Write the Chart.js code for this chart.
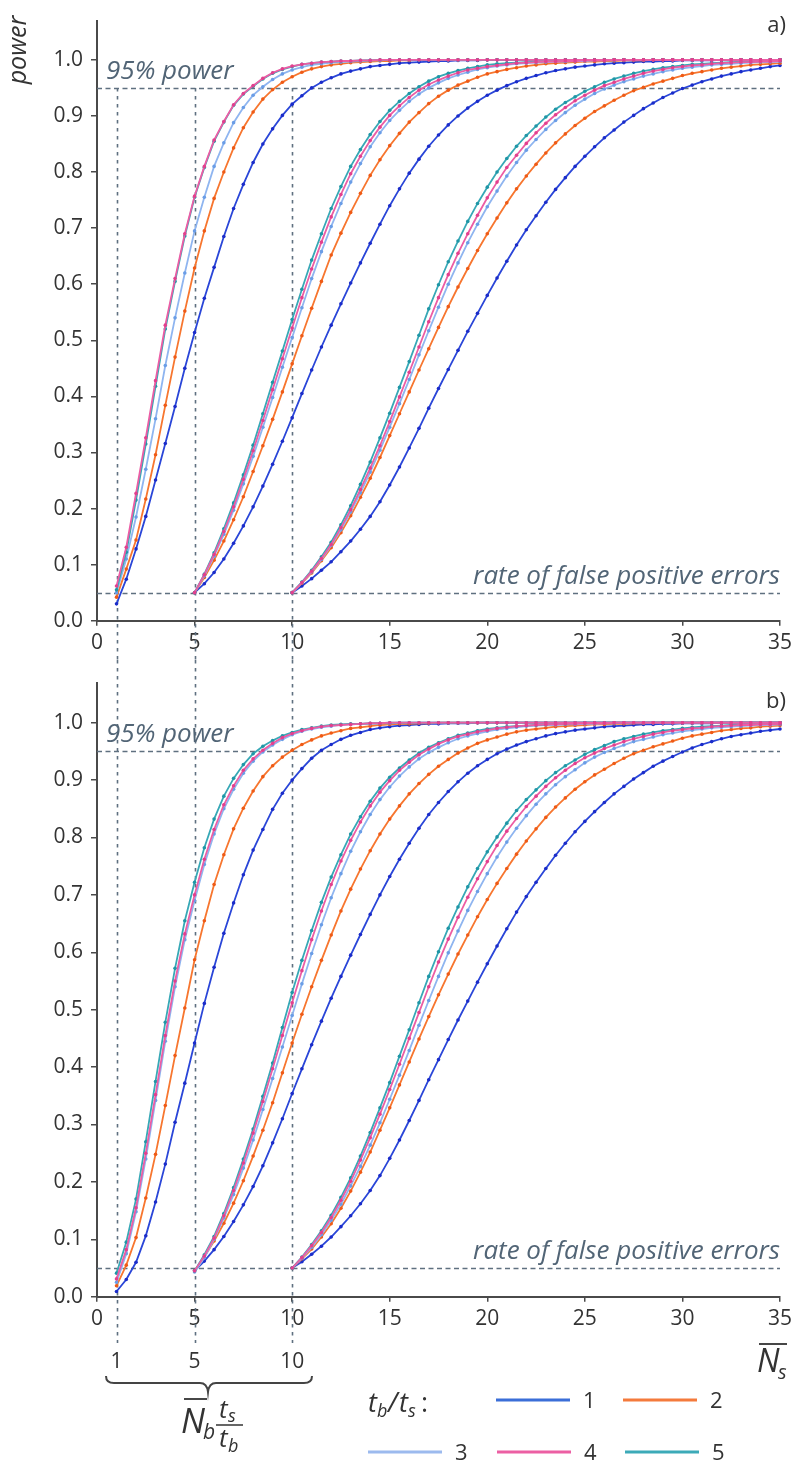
<!DOCTYPE html>
<html>
<head>
<meta charset="utf-8">
<script src="https://cdn.jsdelivr.net/npm/chart.js@4/dist/chart.umd.min.js"></script>
<style>
  html, body { margin: 0; padding: 0; background: #fff; }
  body { position: relative; width: 798px; height: 1462px; overflow: hidden; }
  #chartA { position: absolute; left: 0; top: 0; }
  #chartB { position: absolute; left: 0; top: 660px; }
</style>
</head>
<body>
<canvas id="chartA" width="798" height="660"></canvas>
<canvas id="chartB" width="798" height="802"></canvas>
<script>
"use strict";

// ---- axes / reference values ----
const STEP = 0.5;                 // spacing of the computed points
const GROUP_START = [1, 5, 10];   // N_b * ts/tb of the three curve families
const X_TICKS = [0, 5, 10, 15, 20, 25, 30, 35];
const Y_TICKS = [0, 0.1, 0.2, 0.3, 0.4, 0.5, 0.6, 0.7, 0.8, 0.9, 1.0];
const GUIDE_X = [1, 5, 10];
const GUIDE_Y = [0.95, 0.05];

// ---- panel a) : power values ----
const aBlue1 = [.03,.074,.128,.186,.251,.316,.382,.45,.514,.575,
  .63,.685,.735,.778,.817,.85,.877,.901,.921,.936,
  .95,.96,.968,.975,.98,.984,.988,.99,.992,.994,
  .995,.996,.997,.998,.998,.999,.999,.999,
  1,1,1,1,1,1,1,1,1,1,1,1,1,1,1,1,1,1,1,1,1,1,1,1,1,1,1,1,1,1,1];
const aOrange1 = [.042,.092,.144,.217,.296,.384,.47,.552,.629,.695,
  .753,.8,.843,.879,.907,.93,.947,.96,.97,.978,
  .984,.988,.991,.993,.995,.996,.997,.998,.998,.999,
  .999,
  1,1,1,1,1,1,1,1,1,1,1,1,1,1,1,1,1,1,1,1,1,1,1,1,1,1,1,1,1,1,1,1,1,1,1,1,1,1];
const aLight1 = [.05,.11,.185,.27,.36,.455,.54,.62,.695,.755,
  .81,.852,.888,.915,.937,.952,.965,.975,.982,.987,
  .991,.993,.995,.996,.997,.998,.999,.999,
  1,1,1,1,1,1,1,1,1,1,1,1,1,1,1,1,1,1,1,1,1,1,1,1,1,1,1,1,1,1,1,1,1,1,1,1,1,1,1,1,1];
const aPink1 = [.062,.131,.227,.326,.428,.527,.61,.69,.757,.81,
  .857,.89,.92,.94,.954,.967,.977,.984,.989,.992,
  .994,.996,.997,.998,.998,.999,.999,
  1,1,1,1,1,1,1,1,1,1,1,1,1,1,1,1,1,1,1,1,1,1,1,1,1,1,1,1,1,1,1,1,1,1,1,1,1,1,1,1,1,1];
const aCyan1 = [.055,.122,.215,.315,.418,.52,.605,.686,.755,.808,
  .855,.889,.919,.939,.953,.966,.976,.983,.988,.992,
  .994,.996,.997,.998,.998,.999,.999,
  1,1,1,1,1,1,1,1,1,1,1,1,1,1,1,1,1,1,1,1,1,1,1,1,1,1,1,1,1,1,1,1,1,1,1,1,1,1,1,1,1,1];

const aBlue2 = [.05,.066,.086,.11,.138,.169,.203,.24,.279,.32,
  .362,.405,.447,.488,.527,.565,.602,.638,.673,.707,
  .74,.77,.798,.823,.846,.866,.884,.9,.914,.926,
  .937,.946,.954,.961,.967,.972,.977,.981,.984,.987,
  .989,.991,.993,.994,.995,.996,.997,.997,.998,.998,
  .999,.999,.999,.999,
  1,1,1,1,1,1,1];
const aOrange2 = [.05,.077,.108,.142,.18,.221,.266,.312,.359,.408,
  .458,.508,.557,.605,.652,.691,.728,.762,.794,.822,
  .847,.869,.889,.906,.922,.935,.946,.955,.962,.969,
  .975,.979,.983,.986,.989,.991,.993,.994,.995,.996,
  .997,.997,.998,.998,.999,.999,.999,
  1,1,1,1,1,1,1,1,1,1,1,1,1,1];
const aLight2 = [.05,.08,.115,.154,.197,.244,.293,.345,.398,.452,
  .505,.558,.61,.658,.703,.744,.782,.815,.845,.87,
  .892,.91,.926,.939,.95,.959,.967,.973,.978,.983,
  .986,.989,.991,.993,.994,.995,.996,.997,.997,.998,
  .998,.999,.999,.999,
  1,1,1,1,1,1,1,1,1,1,1,1,1,1,1,1,1];
const aPink2 = [.05,.082,.118,.159,.203,.252,.303,.357,.412,.467,
  .522,.576,.627,.675,.72,.76,.797,.828,.856,.88,
  .901,.918,.933,.946,.956,.964,.971,.977,.982,.985,
  .988,.99,.992,.994,.995,.996,.997,.997,.998,.998,
  .999,.999,.999,
  1,1,1,1,1,1,1,1,1,1,1,1,1,1,1,1,1,1];
const aCyan2 = [.05,.083,.121,.164,.21,.26,.313,.369,.425,.481,
  .537,.591,.643,.69,.735,.774,.81,.84,.867,.89,
  .91,.926,.94,.952,.962,.97,.976,.981,.985,.988,
  .991,.993,.994,.995,.996,.997,.998,.998,.999,.999,
  1,1,1,1,1,1,1,1,1,1,1,1,1,1,1,1,1,1,1,1,1];

const aBlue3 = [.05,.062,.075,.09,.105,.123,.142,.163,.186,.212,
  .242,.274,.308,.343,.379,.414,.448,.482,.516,.548,
  .58,.611,.641,.67,.697,.722,.746,.769,.79,.81,
  .828,.845,.861,.875,.889,.901,.913,.923,.933,.941,
  .949,.955,.961,.966,.971,.975,.979,.982,.985,.988,.99];
const aOrange3 = [.05,.067,.085,.107,.13,.157,.187,.22,.254,.291,
  .33,.369,.408,.447,.485,.523,.56,.595,.628,.66,
  .69,.718,.745,.77,.793,.814,.834,.852,.868,.883,
  .896,.908,.918,.928,.937,.945,.951,.957,.962,.967,
  .972,.976,.979,.982,.985,.987,.989,.991,.992,.993,.994];
const aLight3 = [.05,.068,.087,.109,.134,.162,.194,.228,.265,.304,
  .345,.387,.43,.474,.517,.559,.6,.638,.674,.707,
  .738,.766,.793,.817,.839,.858,.876,.892,.906,.919,
  .93,.94,.948,.955,.961,.966,.971,.975,.979,.982,
  .985,.987,.989,.991,.992,.993,.994,.995,.996,.996,.997];
const aPink3 = [.05,.068,.088,.111,.136,.166,.198,.234,.272,.312,
  .355,.399,.443,.488,.533,.576,.617,.655,.69,.723,
  .754,.782,.808,.83,.851,.87,.887,.902,.915,.927,
  .937,.946,.954,.96,.966,.971,.976,.98,.983,.986,
  .988,.99,.991,.993,.994,.995,.996,.996,.997,.997,.998];
const aCyan3 = [.05,.069,.09,.114,.14,.171,.205,.243,.283,.326,
  .37,.416,.462,.509,.556,.599,.64,.677,.712,.744,
  .773,.8,.824,.846,.865,.882,.898,.912,.924,.934,
  .944,.952,.96,.966,.971,.976,.98,.983,.986,.988,
  .99,.992,.993,.994,.995,.996,.997,.997,.998,.998,.998];

// ---- panel b) ----
const bBlue1 = [.009,.03,.06,.106,.165,.231,.304,.372,.442,.511,
  .574,.633,.686,.735,.778,.814,.849,.877,.9,.92,
  .938,.952,.962,.971,.978,.983,.988,.991,.993,.995,
  .996,.997,.998,.998,.999,.999,.999,
  1,1,1,1,1,1,1,1,1,1,1,1,1,1,1,1,1,1,1,1,1,1,1,1,1,1,1,1,1,1,1,1];
const bOrange1 = [.019,.055,.103,.172,.248,.333,.42,.503,.587,.655,
  .718,.77,.815,.851,.881,.906,.925,.94,.952,.962,
  .97,.977,.982,.986,.99,.992,.994,.996,.997,.998,
  .998,.999,.999,
  1,1,1,1,1,1,1,1,1,1,1,1,1,1,1,1,1,1,1,1,1,1,1,1,1,1,1,1,1,1,1,1,1,1,1,1];
const bLight1 = [.025,.075,.148,.24,.342,.445,.54,.622,.69,.753,
  .806,.85,.884,.912,.933,.949,.961,.971,.979,.985,
  .989,.992,.994,.996,.997,.998,.998,.999,.999,
  1,1,1,1,1,1,1,1,1,1,1,1,1,1,1,1,1,1,1,1,1,1,1,1,1,1,1,1,1,1,1,1,1,1,1,1,1,1,1,1];
const bPink1 = [.031,.082,.155,.25,.352,.455,.55,.632,.7,.762,
  .814,.857,.89,.917,.937,.952,.964,.974,.981,.986,
  .99,.993,.995,.996,.997,.998,.999,.999,
  1,1,1,1,1,1,1,1,1,1,1,1,1,1,1,1,1,1,1,1,1,1,1,1,1,1,1,1,1,1,1,1,1,1,1,1,1,1,1,1,1];
const bCyan1 = [.041,.095,.17,.27,.375,.478,.572,.655,.722,.782,
  .832,.872,.903,.927,.946,.959,.969,.977,.983,.988,
  .991,.994,.996,.997,.998,.998,.999,.999,
  1,1,1,1,1,1,1,1,1,1,1,1,1,1,1,1,1,1,1,1,1,1,1,1,1,1,1,1,1,1,1,1,1,1,1,1,1,1,1,1,1];

const bBlue2 = [.045,.062,.082,.105,.131,.16,.192,.228,.268,.31,
  .354,.397,.439,.48,.52,.558,.595,.631,.666,.7,
  .732,.762,.79,.816,.84,.861,.88,.897,.912,.925,
  .936,.946,.954,.961,.967,.972,.977,.981,.984,.987,
  .989,.991,.993,.994,.995,.996,.997,.997,.998,.998,
  .999,.999,.999,.999,
  1,1,1,1,1,1,1];
const bOrange2 = [.045,.069,.097,.128,.163,.202,.245,.29,.338,.39,
  .442,.492,.54,.586,.63,.672,.71,.745,.777,.806,
  .832,.855,.876,.894,.91,.924,.936,.947,.956,.964,
  .97,.975,.98,.984,.987,.989,.991,.993,.994,.995,
  .996,.997,.997,.998,.998,.999,.999,
  1,1,1,1,1,1,1,1,1,1,1,1,1,1];
const bLight2 = [.043,.068,.1,.137,.178,.224,.273,.326,.38,.435,
  .49,.545,.598,.648,.695,.737,.776,.81,.84,.866,
  .888,.907,.923,.937,.948,.957,.965,.972,.977,.981,
  .985,.988,.99,.992,.994,.995,.996,.996,.997,.997,
  .998,.998,.999,.999,
  1,1,1,1,1,1,1,1,1,1,1,1,1,1,1,1,1];
const bPink2 = [.045,.071,.102,.141,.185,.233,.285,.34,.397,.455,
  .512,.568,.622,.672,.718,.759,.795,.827,.855,.879,
  .899,.917,.931,.944,.954,.963,.97,.976,.98,.984,
  .987,.99,.992,.994,.995,.996,.997,.997,.998,.998,
  .999,.999,.999,
  1,1,1,1,1,1,1,1,1,1,1,1,1,1,1,1,1,1];
const bCyan2 = [.045,.073,.105,.145,.19,.24,.292,.349,.407,.469,
  .53,.586,.638,.687,.731,.77,.806,.836,.863,.886,
  .905,.921,.935,.947,.957,.965,.972,.978,.982,.986,
  .989,.991,.993,.994,.995,.996,.997,.998,.998,.999,
  1,1,1,1,1,1,1,1,1,1,1,1,1,1,1,1,1,1,1,1,1];

const bBlue3 = [.05,.061,.074,.088,.104,.122,.141,.162,.185,.211,
  .241,.273,.307,.342,.378,.413,.448,.482,.515,.548,
  .58,.611,.641,.67,.697,.722,.746,.769,.79,.81,
  .828,.845,.861,.876,.889,.902,.913,.924,.933,.941,
  .949,.956,.962,.967,.972,.976,.979,.982,.985,.987,.989];
const bOrange3 = [.05,.066,.083,.104,.127,.154,.184,.217,.252,.29,
  .329,.369,.409,.449,.488,.526,.562,.597,.63,.662,
  .692,.72,.746,.771,.794,.815,.835,.853,.869,.884,
  .897,.909,.919,.929,.938,.946,.952,.958,.963,.968,
  .973,.977,.98,.983,.986,.988,.99,.991,.993,.994,.995];
const bLight3 = [.05,.067,.086,.108,.133,.161,.193,.227,.264,.303,
  .344,.386,.429,.473,.516,.558,.599,.637,.673,.706,
  .737,.766,.792,.816,.838,.858,.876,.892,.906,.918,
  .93,.94,.948,.955,.961,.967,.971,.975,.979,.982,
  .985,.987,.989,.991,.992,.993,.994,.995,.996,.996,.997];
const bPink3 = [.05,.068,.089,.112,.138,.168,.201,.238,.277,.318,
  .361,.405,.45,.495,.54,.583,.623,.661,.696,.728,
  .758,.786,.811,.833,.854,.872,.889,.904,.917,.929,
  .939,.947,.955,.961,.967,.972,.976,.98,.983,.986,
  .988,.99,.991,.993,.994,.995,.996,.996,.997,.997,.998];
const bCyan3 = [.05,.069,.091,.115,.142,.173,.207,.245,.286,.329,
  .373,.419,.465,.512,.558,.601,.642,.679,.714,.746,
  .775,.801,.825,.847,.866,.883,.899,.913,.925,.935,
  .945,.953,.96,.967,.972,.976,.98,.983,.986,.988,
  .99,.992,.993,.994,.995,.996,.997,.997,.998,.998,.998];

// ---- styles ----
const FONT = '"Open Sans", "DejaVu Sans", sans-serif';
const AXIS = "#4a4a4a";
const NOTE = "#526576";
const GUIDE = "#5f7080";
const STYLE = {
  1: { line: "#2a46d8", dot: "#1b2cc9", key: "#3b6ed8" },
  2: { line: "#f7762f", dot: "#ee5a16", key: "#f47a3c" },
  3: { line: "#8fb5f0", dot: "#6a9de6", key: "#9cbaee" },
  4: { line: "#ec5da4", dot: "#e2408e", key: "#ec5fa3" },
  5: { line: "#37a8b6", dot: "#1f96a6", key: "#3caab8" },
};

// draw order: first dataset ends on top
const PANEL_A = [
  { ratio: 4, groups: [aPink1, aPink2, aPink3] },
  { ratio: 5, groups: [aCyan1, aCyan2, aCyan3] },
  { ratio: 3, groups: [aLight1, aLight2, aLight3] },
  { ratio: 2, groups: [aOrange1, aOrange2, aOrange3] },
  { ratio: 1, groups: [aBlue1, aBlue2, aBlue3] },
];
const PANEL_B = [
  { ratio: 4, groups: [bPink1, bPink2, bPink3] },
  { ratio: 5, groups: [bCyan1, bCyan2, bCyan3] },
  { ratio: 3, groups: [bLight1, bLight2, bLight3] },
  { ratio: 2, groups: [bOrange1, bOrange2, bOrange3] },
  { ratio: 1, groups: [bBlue1, bBlue2, bBlue3] },
];

function buildDatasets(panel) {
  const out = [];
  panel.forEach((s) => {
    s.groups.forEach((vals, g) => {
      out.push({
        label: "tb/ts = " + s.ratio,
        data: vals.map((v, i) => ({ x: GROUP_START[g] + i * STEP, y: v })),
        borderColor: STYLE[s.ratio].line,
        backgroundColor: STYLE[s.ratio].dot,
        pointBackgroundColor: STYLE[s.ratio].dot,
        pointBorderWidth: 0,
        pointRadius: 1.8,
        borderWidth: 1.8,
        tension: 0,
        fill: false,
        clip: 4,
      });
    });
  });
  return out;
}

function text(ctx, str, x, y, font, color, align) {
  ctx.font = font;
  ctx.fillStyle = color;
  ctx.textAlign = align || "left";
  ctx.textBaseline = "alphabetic";
  ctx.fillText(str, x, y);
}

function hline(ctx, x0, x1, y, w, color) {
  ctx.beginPath();
  ctx.lineWidth = w;
  ctx.strokeStyle = color;
  ctx.moveTo(x0, y);
  ctx.lineTo(x1, y);
  ctx.stroke();
}

// dashed guides + annotations
const guidePlugin = {
  id: "guides",
  beforeDatasetsDraw(chart, args, o) {
    const { ctx, chartArea: ca, scales: { x, y } } = chart;
    ctx.save();
    ctx.strokeStyle = GUIDE;
    ctx.lineWidth = 1.4;
    ctx.setLineDash([5, 3.5]);
    GUIDE_Y.forEach((v) => {
      const py = Math.round(y.getPixelForValue(v)) + 0.5;
      ctx.beginPath();
      ctx.moveTo(ca.left, py);
      ctx.lineTo(x.getPixelForValue(35), py);
      ctx.stroke();
    });
    ctx.setLineDash([3.5, 4.5]);
    ctx.lineWidth = 1.6;
    GUIDE_X.forEach((v) => {
      const px = Math.round(x.getPixelForValue(v)) + 0.5;
      const top = o.vFromPower ? y.getPixelForValue(0.95) : 0;
      ctx.beginPath();
      ctx.moveTo(px, top);
      ctx.lineTo(px, o.vBottom);
      ctx.stroke();
    });
    ctx.restore();
  },
  afterDraw(chart, args, o) {
    const { ctx, scales: { x, y } } = chart;
    ctx.save();
    text(ctx, "95% power", 106, y.getPixelForValue(0.95) - 9, "italic 26px " + FONT, NOTE);
    text(ctx, "rate of false positive errors", 780, y.getPixelForValue(0.05) - 9, "italic 26px " + FONT, NOTE, "right");
    text(ctx, o.tag, 786, o.tagY, "22px " + FONT, "#333", "right");
    if (o.yTitle) {
      ctx.translate(19, 50);
      ctx.rotate(-Math.PI / 2);
      ctx.font = "italic 25px " + FONT;
      ctx.fillStyle = "#333";
      ctx.textAlign = "center";
      ctx.textBaseline = "middle";
      ctx.fillText("power", 0, 0);
      ctx.setTransform(1, 0, 0, 1, 0, 0);
    }
    if (o.extras) drawExtras(ctx, x);
    ctx.restore();
  },
};

// secondary scale, brace, formulas and key under panel b
function drawExtras(ctx, x) {
  GUIDE_X.forEach((v) => {
    text(ctx, String(v), x.getPixelForValue(v), 708, "21px " + FONT, "#333", "center");
  });

  // curly brace
  ctx.beginPath();
  ctx.lineWidth = 2;
  ctx.strokeStyle = "#444";
  ctx.moveTo(106, 716);
  ctx.quadraticCurveTo(106, 723, 114, 723);
  ctx.lineTo(200, 723);
  ctx.quadraticCurveTo(207, 723, 208, 732);
  ctx.quadraticCurveTo(209, 723, 216, 723);
  ctx.lineTo(304, 723);
  ctx.quadraticCurveTo(312, 723, 312, 716);
  ctx.stroke();

  // N_b overline * ts / tb
  hline(ctx, 184, 207, 739, 1.8, "#333");
  text(ctx, "N", 181, 773, "italic 34px " + FONT, "#333");
  text(ctx, "b", 203, 779, "italic 21px " + FONT, "#333");
  text(ctx, "t", 219, 758, "italic 26px " + FONT, "#333");
  text(ctx, "s", 228, 762, "italic 18px " + FONT, "#333");
  hline(ctx, 216, 243, 765, 1.5, "#333");
  text(ctx, "t", 219, 787, "italic 26px " + FONT, "#333");
  text(ctx, "b", 228, 792, "italic 18px " + FONT, "#333");

  // N_s axis title
  hline(ctx, 759, 787, 684, 1.8, "#333");
  text(ctx, "N", 757, 712, "italic 32px " + FONT, "#333");
  text(ctx, "s", 778, 719, "italic 20px " + FONT, "#333");

  // key
  text(ctx, "t", 368, 752, "italic 27px " + FONT, "#333");
  text(ctx, "b", 377, 757, "italic 18px " + FONT, "#333");
  text(ctx, "/", 388, 752, "italic 27px " + FONT, "#333");
  text(ctx, "t", 399, 752, "italic 27px " + FONT, "#333");
  text(ctx, "s", 408, 757, "italic 18px " + FONT, "#333");
  text(ctx, ":", 421, 752, "27px " + FONT, "#333");

  const keyRows = [
    { r: 1, x0: 496, y: 740 }, { r: 2, x0: 623, y: 740 },
    { r: 3, x0: 368, y: 792 }, { r: 4, x0: 497, y: 792 }, { r: 5, x0: 625, y: 792 },
  ];
  keyRows.forEach((k) => {
    hline(ctx, k.x0, k.x0 + 74, k.y, 3, STYLE[k.r].key);
    text(ctx, String(k.r), k.x0 + 87, k.y + 8, "22px " + FONT, "#333");
  });
}

function makeChart(id, panel, opt) {
  return new Chart(document.getElementById(id), {
    type: "line",
    data: { datasets: buildDatasets(panel) },
    plugins: [guidePlugin],
    options: {
      responsive: false,
      animation: false,
      devicePixelRatio: 1,
      layout: { padding: { top: opt.padTop, right: 18, left: 0, bottom: 0 } },
      plugins: {
        legend: { display: false },
        tooltip: { enabled: false },
        guides: opt.guides,
      },
      scales: {
        x: {
          type: "linear",
          min: 0,
          max: 35,
          afterBuildTicks: (s) => { s.ticks = X_TICKS.map((v) => ({ value: v })); },
          afterFit: (s) => { s.height = opt.xHeight; },
          grid: { display: true, drawOnChartArea: false, drawTicks: true, tickLength: 5, color: AXIS, lineWidth: 1.5 },
          border: { display: true, color: AXIS, width: 2 },
          ticks: { font: { family: FONT, size: 21 }, color: "#333", padding: 5, maxRotation: 0 },
        },
        y: {
          type: "linear",
          min: 0,
          max: 1.07,
          afterBuildTicks: (s) => { s.ticks = Y_TICKS.map((v) => ({ value: v })); },
          afterFit: (s) => { s.width = 97; },
          grid: { display: true, drawOnChartArea: false, drawTicks: true, tickLength: 6, color: AXIS, lineWidth: 1.5 },
          border: { display: true, color: AXIS, width: 2 },
          ticks: { font: { family: FONT, size: 21 }, color: "#333", padding: 8, callback: (v) => Number(v).toFixed(1) },
        },
      },
    },
  });
}

makeChart("chartA", PANEL_A, {
  padTop: 10,
  xHeight: 39.3,
  guides: { vFromPower: true, vBottom: 660, tag: "a)", tagY: 32, yTitle: true, extras: false },
});
makeChart("chartB", PANEL_B, {
  padTop: 22.5,
  xHeight: 165.3,
  guides: { vFromPower: false, vBottom: 683, tag: "b)", tagY: 48, yTitle: false, extras: true },
});
</script>
</body>
</html>
